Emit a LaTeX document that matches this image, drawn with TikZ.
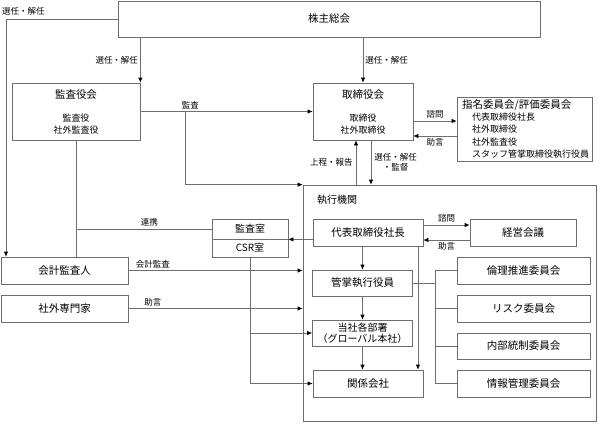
\documentclass[tikz,border=0pt]{standalone}
\usepackage{fontspec}
\setmainfont{Noto Sans CJK JP}
\usetikzlibrary{arrows.meta,calc}
\definecolor{lc}{RGB}{110,110,110}
\begin{document}
\begin{tikzpicture}[x=1pt,y=-1pt,
  box/.style={draw=lc,line width=0.7pt,inner sep=0pt,font=\fontsize{10.5}{12}\selectfont},
  lab/.style={font=\fontsize{8.5}{10}\selectfont,inner sep=1pt},
  sub/.style={font=\fontsize{9}{10}\selectfont,inner sep=0pt},
  ln/.style={draw=lc,line width=0.7pt},
  arr/.style={ln,-{Latex[color=black,length=5pt,width=4.5pt]}}]
\useasboundingbox (0,0) rectangle (598,424);
% boxes
\node[box,minimum width=422pt,minimum height=36pt] (kabu) at (329,19) {株主総会};
\node[box,minimum width=128pt,minimum height=57pt] (kansayaku) at (76,111.5) {};
\node[box,minimum width=100pt,minimum height=57pt] (tori) at (363,111.5) {};
\node[box,minimum width=135pt,minimum height=64pt] (shimei) at (524.5,129) {};
\node[draw=lc,line width=0.7pt,minimum width=293pt,minimum height=236pt,inner sep=0pt] (frame) at (449.5,303) {};
\node[box,minimum width=110pt,minimum height=27pt] (daihyo) at (368,232.5) {代表取締役社長};
\node[box,minimum width=106pt,minimum height=27pt] (keiei) at (523,232.5) {経営会議};
\node[box,minimum width=76pt,minimum height=20pt,font=\fontsize{10}{12}\selectfont] (kansa) at (250,229) {監査室};
\node[box,minimum width=76pt,minimum height=18pt,font=\fontsize{10}{12}\selectfont] (csr) at (250,248) {CSR室};
\node[box,minimum width=127pt,minimum height=27pt] (kaikei) at (64.5,270.5) {会計監査人};
\node[box,minimum width=127pt,minimum height=27pt] (gaibu) at (64.5,308.5) {社外専門家};
\node[box,minimum width=100pt,minimum height=26pt] (kansho) at (362.5,283) {管掌執行役員};
\node[box,minimum width=100pt,minimum height=26pt,align=center,font=\fontsize{10}{11.5}\selectfont] (busho) at (362.5,333) {当社各部署\\（グローバル本社）};
\node[box,minimum width=110pt,minimum height=27pt] (kankei) at (368,383.5) {関係会社};
\node[box,minimum width=133pt,minimum height=27pt] (rinri) at (523.5,270.5) {倫理推進委員会};
\node[box,minimum width=133pt,minimum height=27pt] (risk) at (523.5,308.5) {リスク委員会};
\node[box,minimum width=133pt,minimum height=26pt] (naibu) at (523.5,346) {内部統制委員会};
\node[box,minimum width=133pt,minimum height=27pt] (joho) at (523.5,383.5) {情報管理委員会};
% texts inside boxes
\node[font=\fontsize{10.5}{12}\selectfont,inner sep=0pt] (t1) at (76,95) {監査役会};
\node[sub] (t2) at (76,118) {監査役};
\node[sub] (t3) at (76,130) {社外監査役};
\node[font=\fontsize{10.5}{12}\selectfont,inner sep=0pt] (t4) at (363,95) {取締役会};
\node[sub] (t5) at (363,118) {取締役};
\node[sub] (t6) at (363,130) {社外取締役};
\node[font=\fontsize{10.5}{12}\selectfont,inner sep=0pt,anchor=west] (t7) at (462,105.5) {指名委員会/評価委員会};
\node[sub,anchor=west] (t8) at (472,117) {代表取締役社長};
\node[sub,anchor=west] (t9) at (472,129.5) {社外取締役};
\node[sub,anchor=west] (t10) at (472,142) {社外監査役};
\node[sub,anchor=west] (t11) at (472,154.5) {スタッフ管掌取締役執行役員};
\node[font=\fontsize{10}{12}\selectfont,inner sep=0pt,anchor=west] (t12) at (317,200) {執行機関};
% connectors
\coordinate (c6) at (6,19);
\draw[arr] (kabu.west) -- (c6) -- (c6 |- kaikei.north);
\node[lab,anchor=west] (l1) at (1,11) {選任・解任};
\draw[arr] (kabu.south -| kansayaku.north east) -- (kansayaku.north east) node[lab,midway,left=1pt] {選任・解任};
\draw[arr] (kabu.south -| tori.north) -- (tori.north) node[lab,midway,right=1pt] {選任・解任};
\draw[arr] (kansayaku.east) -- (tori.west) node[lab,pos=0.29,above=1pt] {監査};
\coordinate (k1) at ([xshift=45pt]kansayaku.east);
\draw[arr] (k1) |- (frame.north west);
\draw[ln] (kansayaku.south) -- (kansayaku.south |- kaikei.north);
\draw[ln] (kansayaku.south |- kansa.west) -- (kansa.west) node[lab,pos=0.54,above=1pt] {連携};
\coordinate (s1) at ([yshift=-9.5pt]tori.east);
\coordinate (s2) at ([yshift=-24.5pt]tori.east);
\draw[arr] (s1) -- (s1 -| shimei.west) node[lab,midway,above=1pt] {諮問};
\draw[arr] (s2 -| shimei.west) -- (s2) node[lab,midway,below=1pt] {助言};
\coordinate (u1) at ([xshift=-7pt]tori.south);
\coordinate (u2) at ([xshift=8pt]tori.south);
\draw[arr] (u1 |- frame.north) -- (u1) node[lab,midway,left=2pt] {上程・報告};
\draw[arr] (u2) -- (u2 |- frame.north) node[lab,midway,right=2pt,align=center] {選任・解任\\・監督};
\coordinate (d1) at ([yshift=7.5pt]daihyo.east);
\coordinate (d3) at ([yshift=-7.5pt]daihyo.east);
\draw[arr] (d1) -- (d1 -| keiei.west) node[lab,midway,above=1pt] {諮問};
\draw[arr] (d3 -| keiei.west) -- (d3) node[lab,midway,below=1pt] {助言};
\draw[arr] (daihyo.west |- kansa.south east) -- (kansa.south east);
\draw[arr] (kaikei.east) -- (kaikei.east -| frame.west) node[lab,pos=0.14,above=1pt] {会計監査};
\draw[arr] (gaibu.east) -- (gaibu.east -| frame.west) node[lab,pos=0.14,above=1pt] {助言};
\draw[arr] (csr.south) |- (kankei.west);
\draw[arr] (csr.south |- busho.west) -- (busho.west);
\draw[arr] (kansho.north |- daihyo.south) -- (kansho.north);
\draw[arr] (kansho.south) -- (busho.north);
\draw[arr] (busho.south) -- (busho.south |- kankei.north);
\coordinate (d2) at ([xshift=50pt]daihyo.south);
\draw[arr] (d2) -- (d2 |- kankei.north);
\coordinate (br) at ([xshift=22pt]kansho.east);
\draw[ln] (kansho.east) -- (br);
\draw[ln] (br |- rinri.west) -- (br |- joho.west);
\draw[ln] (br |- rinri.west) -- (rinri.west);
\draw[ln] (br |- risk.west) -- (risk.west);
\draw[ln] (br |- naibu.west) -- (naibu.west);
\draw[ln] (br |- joho.west) -- (joho.west);
\end{tikzpicture}
\end{document}
